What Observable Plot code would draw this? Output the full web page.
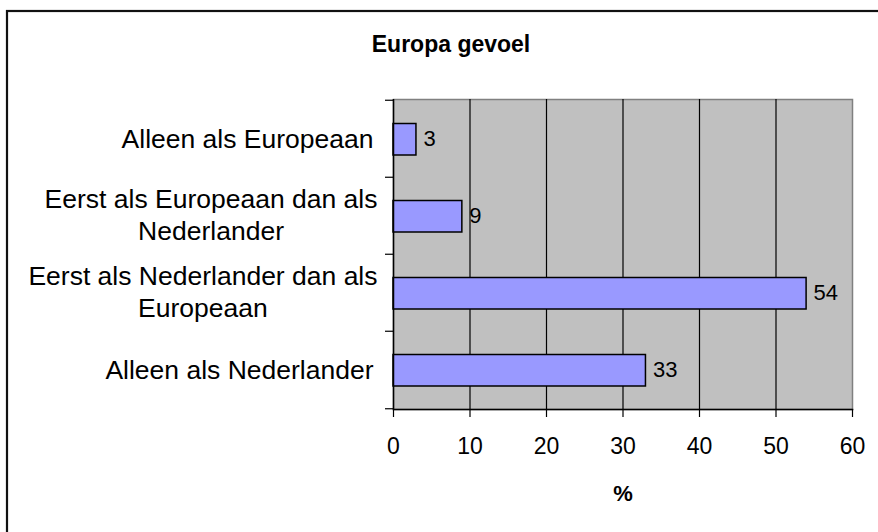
<!DOCTYPE html>
<html>
<head>
<meta charset="utf-8">
<script src="https://cdn.jsdelivr.net/npm/d3@7"></script>
<script src="https://cdn.jsdelivr.net/npm/@observablehq/plot@0.6"></script>
<style>
  html, body { margin: 0; padding: 0; background: #fff; }
  #chart svg { display: block; }
</style>
</head>
<body>
<div id="chart"></div>
<script>
// ---- data ----
const categories = [
  "Alleen als Europeaan",
  "Eerst als Europeaan dan als Nederlander",
  "Eerst als Nederlander dan als Europeaan",
  "Alleen als Nederlander"
];
const categoryLines = [
  ["Alleen als Europeaan"],
  ["Eerst als Europeaan dan als", "Nederlander"],
  ["Eerst als Nederlander dan als", "Europeaan"],
  ["Alleen als Nederlander"]
];
const values = [3, 9, 54, 33];
const xTicks = [0, 10, 20, 30, 40, 50, 60];
const title = "Europa gevoel";
const xLabel = "%";

// ---- layout ----
const W = 878, H = 532;
const mL = 393, mR = 26, mT = 99, mB = 123;
const bw = (H - mT - mB) / categories.length;
const font = "Liberation Sans, Arial, Helvetica, sans-serif";
const labelSize = 26.5;

const data = categories.map((c, i) => ({cat: c, value: values[i], lines: categoryLines[i]}));

// measure label widths for Excel-like block alignment
const ctx = document.createElement("canvas").getContext("2d");
ctx.font = `${labelSize}px "Liberation Sans"`;
const blockW = (lines) => Math.max(...lines.map(l => ctx.measureText(l).width));

const labelMarks = data.map(d =>
  Plot.text([d], {
    y: "cat",
    text: r => r.lines.join("\n"),
    frameAnchor: "left",
    textAnchor: "middle",
    dx: (d.lines.length > 1 ? -16 : -20) - blockW(d.lines) / 2,
    dy: d.lines.length > 1 ? -2.5 : -1,
    lineHeight: 1.21,
    fontSize: labelSize,
    fill: "black"
  })
);

const chart = Plot.plot({
  width: W,
  height: H,
  marginLeft: mL,
  marginRight: mR,
  marginTop: mT,
  marginBottom: mB,
  style: {fontFamily: font, fontSize: "23px", color: "black", background: "white", overflow: "visible"},
  x: {domain: [0, 60], ticks: xTicks, label: null},
  y: {domain: categories, padding: 0, label: null, axis: null},
  marks: [
    Plot.frame({fill: "#C0C0C0", stroke: "#808080", strokeWidth: 1.5}),
    Plot.gridX(xTicks.slice(1, -1), {stroke: "black", strokeOpacity: 1, strokeWidth: 1.2}),
    Plot.barX(data, {x: "value", y: "cat", fill: "#9999FF", stroke: "black", strokeWidth: 1.5, insetTop: 23.5, insetBottom: 22}),
    Plot.text(data, {x: "value", y: "cat", text: d => String(d.value), textAnchor: "start", dx: 7, dy: 0, fontSize: 22, fill: "black"}),
    Plot.ruleX([0], {stroke: "black", strokeWidth: 1.5}),
    Plot.frame({anchor: "bottom", stroke: "black", strokeWidth: 1.5}),
    Plot.axisX(xTicks, {tickSize: 8, tickPadding: 20, tickFormat: d => String(d), fontSize: 23, stroke: "black", strokeWidth: 1.2, label: null}),
    Plot.axisY(categories, {anchor: "left", tickSize: 8, tickFormat: () => "", dy: -bw / 2, stroke: "black", strokeWidth: 1.2, label: null}),
    Plot.axisY([categories[categories.length - 1]], {anchor: "left", tickSize: 8, tickFormat: () => "", dy: bw / 2, stroke: "black", strokeWidth: 1.2, label: null}),
    ...labelMarks,
    Plot.text([xLabel], {frameAnchor: "bottom", dy: 84, fontWeight: "bold", fontSize: 22, fill: "black", lineAnchor: "middle"}),
    Plot.text([title], {frameAnchor: "top", dx: -172, dy: -55, fontWeight: "bold", fontSize: 23, fill: "black", lineAnchor: "middle", letterSpacing: 0.6})
  ]
});

// outer chart-area border (only top/left visible within the crop)
d3.select(chart).append("rect")
  .attr("x", 7).attr("y", 11)
  .attr("width", W + 10).attr("height", H + 10)
  .attr("fill", "none").attr("stroke", "#111").attr("stroke-width", 2.2);

document.getElementById("chart").appendChild(chart);
</script>
</body>
</html>
